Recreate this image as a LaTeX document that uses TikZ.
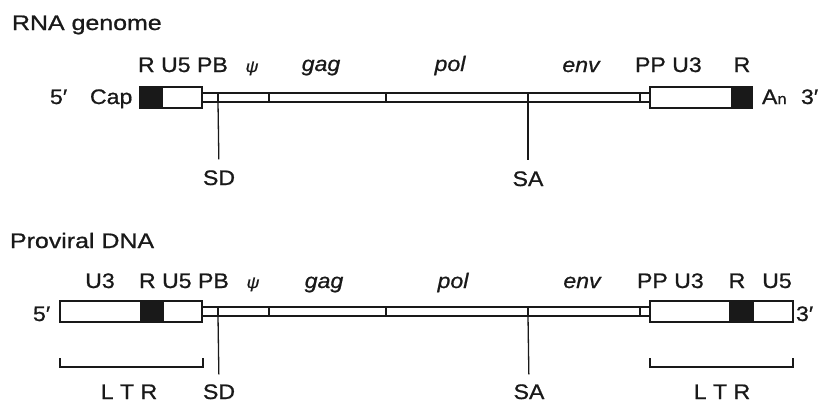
\documentclass[tikz,border=0pt]{standalone}
\usepackage{fontspec}
\setmainfont{Liberation Sans}[FakeStretch=1.1,FakeBold=0.8]
\usetikzlibrary{calc}
\definecolor{ink}{gray}{0.1}
\tikzset{
  txt/.style={inner sep=0pt, outer sep=0pt, anchor=base, text=ink, font=\fontsize{21}{25}\selectfont},
  gene/.style={txt, font=\fontsize{21}{25}\selectfont\itshape},
  psi/.style={txt, font=\fontsize{16}{20}\selectfont\itshape},
  seg/.style={draw=ink, line width=1.7pt, fill=white, inner sep=0pt, outer sep=0pt, anchor=north west, minimum height=21pt},
  blk/.style={seg, fill=ink},
  stripbox/.style={draw=ink, line width=1.6pt, fill=white, inner sep=0pt, outer sep=0pt, anchor=north west, minimum height=9pt},
  tick/.style={draw=ink, line width=1.3pt},
  conn/.style={draw=ink, line width=1.3pt},
  brack/.style={draw=ink, line width=1.3pt},
}
\begin{document}
\begin{tikzpicture}[x=1pt,y=-1pt]
\useasboundingbox[fill=white] (0,0) rectangle (821,402);

% ---------------- RNA genome ----------------
\node[txt, anchor=base west, xscale=1.08] (titleA) at (12,30) {RNA genome};

\node[stripbox, minimum width=448pt] (stripA) at (202,93) {};
\node[blk, minimum width=22pt] (rA) at (140,87) {};
\node[seg, minimum width=40pt] (u5A) at (162,87) {};
\node[seg, minimum width=82pt] (u3A) at (650,87) {};
\node[blk, minimum width=20pt] (r2A) at (732,87) {};

\foreach \x [count=\i] in {218,269,386,528,640} {
  \coordinate (tA\i) at (\x,93);
  \draw[tick] (tA\i) -- (tA\i |- stripA.south);
}

\node[txt, anchor=base west] (lblA1) at (138,72) {R U5 PB};
\node[psi] (psiA) at (252,72) {ψ};
\node[gene] (gagA) at (321,71) {gag};
\node[gene] (polA) at (450,71) {pol};
\node[gene] (envA) at (581,72) {env};
\node[txt, anchor=base west] (ppA) at (635,72) {PP U3};
\node[txt] (rlA) at (742,72) {R};

\node[txt, anchor=base west] (fiveA) at (50,104) {5′};
\node[txt, anchor=base west] (capA) at (90,104) {Cap};
\node[txt, anchor=base west] (anA) at (762,104) {A\fontsize{15}{15}\selectfont n};
\node[txt, anchor=base west] (threeA) at (801,104) {3′};

\node[txt] (sdA) at (219,185) {SD};
\node[txt] (saA) at (528,186) {SA};
\draw[conn, shorten >=11pt] (tA1 |- stripA.south) -- (sdA.north);
\draw[conn, shorten >=11pt] (tA4 |- stripA.south) -- (saA.north);

% ---------------- Proviral DNA ----------------
\node[txt, anchor=base west, xscale=1.08] (titleB) at (10,248) {Proviral DNA};

\node[stripbox, minimum width=448pt] (stripB) at (202,307) {};
\node[seg, minimum width=81pt] (u3B) at (60,301) {};
\node[blk, minimum width=22pt] (rB) at (141,301) {};
\node[seg, minimum width=39pt] (u5B) at (163,301) {};
\node[seg, minimum width=80pt] (u3C) at (650,301) {};
\node[blk, minimum width=23pt] (rC) at (730,301) {};
\node[seg, minimum width=40pt] (u5C) at (753,301) {};

\foreach \x [count=\i] in {218,269,386,528,640} {
  \coordinate (tB\i) at (\x,307);
  \draw[tick] (tB\i) -- (tB\i |- stripB.south);
}

\node[txt] (u3lB) at (100,288) {U3};
\node[txt, anchor=base west] (lblB1) at (139,288) {R U5 PB};
\node[psi] (psiB) at (253,288) {ψ};
\node[gene] (gagB) at (324,288) {gag};
\node[gene] (polB) at (453,288) {pol};
\node[gene] (envB) at (582,288) {env};
\node[txt, anchor=base west] (ppB) at (637,288) {PP U3};
\node[txt] (rlB) at (737,288) {R};
\node[txt] (u5lB) at (777,288) {U5};

\node[txt, anchor=base west] (fiveB) at (33,321) {5′};
\node[txt, anchor=base west] (threeB) at (796,321) {3′};

\node[txt] (sdB) at (219,399) {SD};
\node[txt] (saB) at (529,399) {SA};
\draw[conn, shorten >=10pt] (tB1 |- stripB.south) -- (sdB.north);
\draw[conn, shorten >=10pt] (tB4 |- stripB.south) -- (saB.north);

% LTR brackets
\coordinate (lb1) at (60,358);  \coordinate (lb2) at (60,367);
\coordinate (lb3) at (203,367); \coordinate (lb4) at (203,358);
\draw[brack] (lb1) -- (lb2) -- (lb3) -- (lb4);
\coordinate (rb1) at (650,358); \coordinate (rb2) at (650,367);
\coordinate (rb3) at (793,367); \coordinate (rb4) at (793,358);
\draw[brack] (rb1) -- (rb2) -- (rb3) -- (rb4);
\node[txt] (ltrL) at (129,399) {L T R};
\node[txt] (ltrR) at (722,399) {L T R};
\end{tikzpicture}
\end{document}
